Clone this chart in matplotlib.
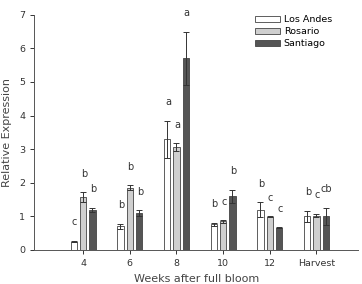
import numpy as np
import matplotlib.pyplot as plt

# data
weeks = ["4", "6", "8", "10", "12", "Harvest"]
cultivars = ["Los Andes", "Rosario", "Santiago"]
los_andes = [0.25, 0.70, 3.30, 0.76, 1.20, 1.00]
rosario = [1.57, 1.85, 3.05, 0.85, 0.99, 1.02]
santiago = [1.20, 1.10, 5.70, 1.60, 0.66, 1.00]
los_andes_err = [0.02, 0.08, 0.55, 0.05, 0.22, 0.16]
rosario_err = [0.15, 0.07, 0.12, 0.04, 0.02, 0.05]
santiago_err = [0.06, 0.08, 0.80, 0.19, 0.02, 0.25]
los_andes_lbl = ["c", "b", "a", "b", "b", "b"]
rosario_lbl = ["b", "b", "a", "c", "c", "c"]
santiago_lbl = ["b", "b", "a", "b", "c", "cb"]

colors = ["#ffffff", "#cfcfcf", "#555555"]

fig = plt.figure(figsize=(3.62, 2.84), dpi=100)
ax = fig.add_axes([0.094, 0.12, 0.896, 0.828])

x = np.arange(len(weeks))
width = 0.135
offsets = [-0.2, 0.0, 0.2]
series = [
    (los_andes, los_andes_err, los_andes_lbl),
    (rosario, rosario_err, rosario_lbl),
    (santiago, santiago_err, santiago_lbl),
]

for (vals, errs, lbls), off, col, name in zip(series, offsets, colors, cultivars):
    ax.bar(x + off, vals, width, color=col, edgecolor="#444444", linewidth=0.6,
           label=name, zorder=2)
    ax.errorbar(x + off, vals, yerr=errs, fmt="none", ecolor="#333333",
                elinewidth=0.7, capsize=2.5, capthick=0.7, zorder=3)
    for xi, v, e, t in zip(x + off, vals, errs, lbls):
        ax.text(xi + 0.02, v + e + 0.55, t, ha="center", va="center",
                fontsize=7, color="#333333")

ax.set_xlim(-1.05, 5.9)
ax.set_ylim(0, 7)
ax.set_xticks(x)
ax.set_xticklabels(weeks)
ax.set_yticks(range(8))
ax.tick_params(labelsize=6.8, colors="#333333", length=3, width=0.7)
ax.spines["top"].set_visible(False)
ax.spines["right"].set_visible(False)
for s in ["left", "bottom"]:
    ax.spines[s].set_color("#555555")
    ax.spines[s].set_linewidth(0.7)

ax.set_ylabel("Relative Expression", fontsize=8, color="#444444", labelpad=5)
ax.set_xlabel("Weeks after full bloom", fontsize=8, color="#444444", labelpad=4)

ax.legend(loc="upper left", bbox_to_anchor=(0.665, 1.022), frameon=False,
          fontsize=6.8, handlelength=2.6, handleheight=0.6, labelspacing=0.3,
          handletextpad=0.4, borderaxespad=0.2)

fig.savefig("out.png", dpi=100)
